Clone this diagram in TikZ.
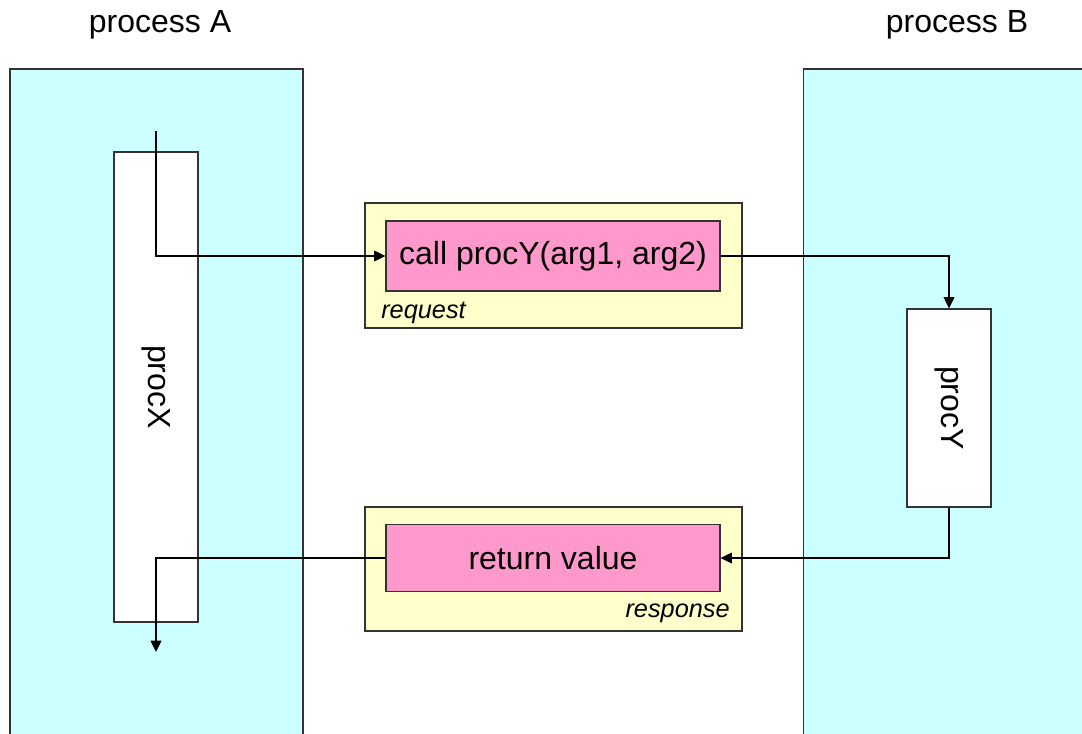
\documentclass[tikz,border=0pt]{standalone}
\usepackage{fontspec}
\setmainfont{Liberation Sans}
\usetikzlibrary{arrows.meta}
\definecolor{paneblue}{HTML}{CCFFFF}
\definecolor{msgyellow}{HTML}{FFFFCC}
\definecolor{msgpink}{HTML}{FF99CC}
\definecolor{edgegray}{HTML}{333333}
\tikzset{
  pane/.style={draw=edgegray, fill=paneblue, line width=0.8pt, inner sep=0pt},
  procbox/.style={draw=edgegray, fill=white, line width=0.8pt, inner sep=0pt,
    font=\fontsize{24}{28}\selectfont},
  envelope/.style={draw=edgegray, fill=msgyellow, line width=0.8pt, inner sep=0pt},
  payload/.style={draw=edgegray, fill=msgpink, line width=0.8pt, inner sep=0pt,
    font=\fontsize{24}{28}\selectfont},
  caption/.style={inner sep=0pt, font=\fontsize{24}{28}\selectfont},
  tag/.style={inner sep=0pt, font=\fontsize{19}{22}\selectfont\itshape},
  flow/.style={draw=black, line width=1.1pt,
    -{Triangle[length=8.5pt, width=8pt]}},
}
\begin{document}
\begin{tikzpicture}[x=0.75pt, y=-0.75pt]
  \useasboundingbox (0,0) rectangle (1082,734);
  \clip (0,0) rectangle (1082,734);

  % process lanes
  \node[pane, minimum width=219.75pt, minimum height=510.75pt] (laneA) at (156.5,409.5) {};
  \node[pane, minimum width=222.75pt, minimum height=510.75pt] (laneB) at (952,409.5) {};
  \node[caption] (capA) at (160,25) {process A};
  \node[caption] (capB) at (957,25) {process B};

  % procedures
  \node[procbox, minimum width=63pt, minimum height=352.5pt] (procX) at (156,387) {\rotatebox{-90}{procX}};
  \node[procbox, minimum width=63pt, minimum height=148.5pt] (procY) at (949,408) {\rotatebox{-90}{procY}};

  % request message
  \node[envelope, minimum width=282.75pt, minimum height=93.75pt] (req) at (553.5,265.5) {};
  \node[payload, minimum width=250.5pt, minimum height=52.5pt] (call) at (553,256) {call procY(arg1, arg2)};
  \node[tag, anchor=west] (reqtag) at (381,313) {request};

  % response message
  \node[envelope, minimum width=282.75pt, minimum height=93pt] (resp) at (553.5,569) {};
  \node[payload, minimum width=250.5pt, minimum height=50.25pt] (ret) at (553,558) {return value};
  \node[tag, anchor=east] (resptag) at (730,613) {response};

  % control flow
  \coordinate (entry) at (156,131);
  \coordinate (exit) at (156,652);
  \draw[flow] (entry) |- (call.west);
  \draw[flow] (call.east) -| (procY.north);
  \draw[flow] (procY.south) |- (ret.east);
  \draw[flow] (ret.west) -| (exit);
\end{tikzpicture}
\end{document}
